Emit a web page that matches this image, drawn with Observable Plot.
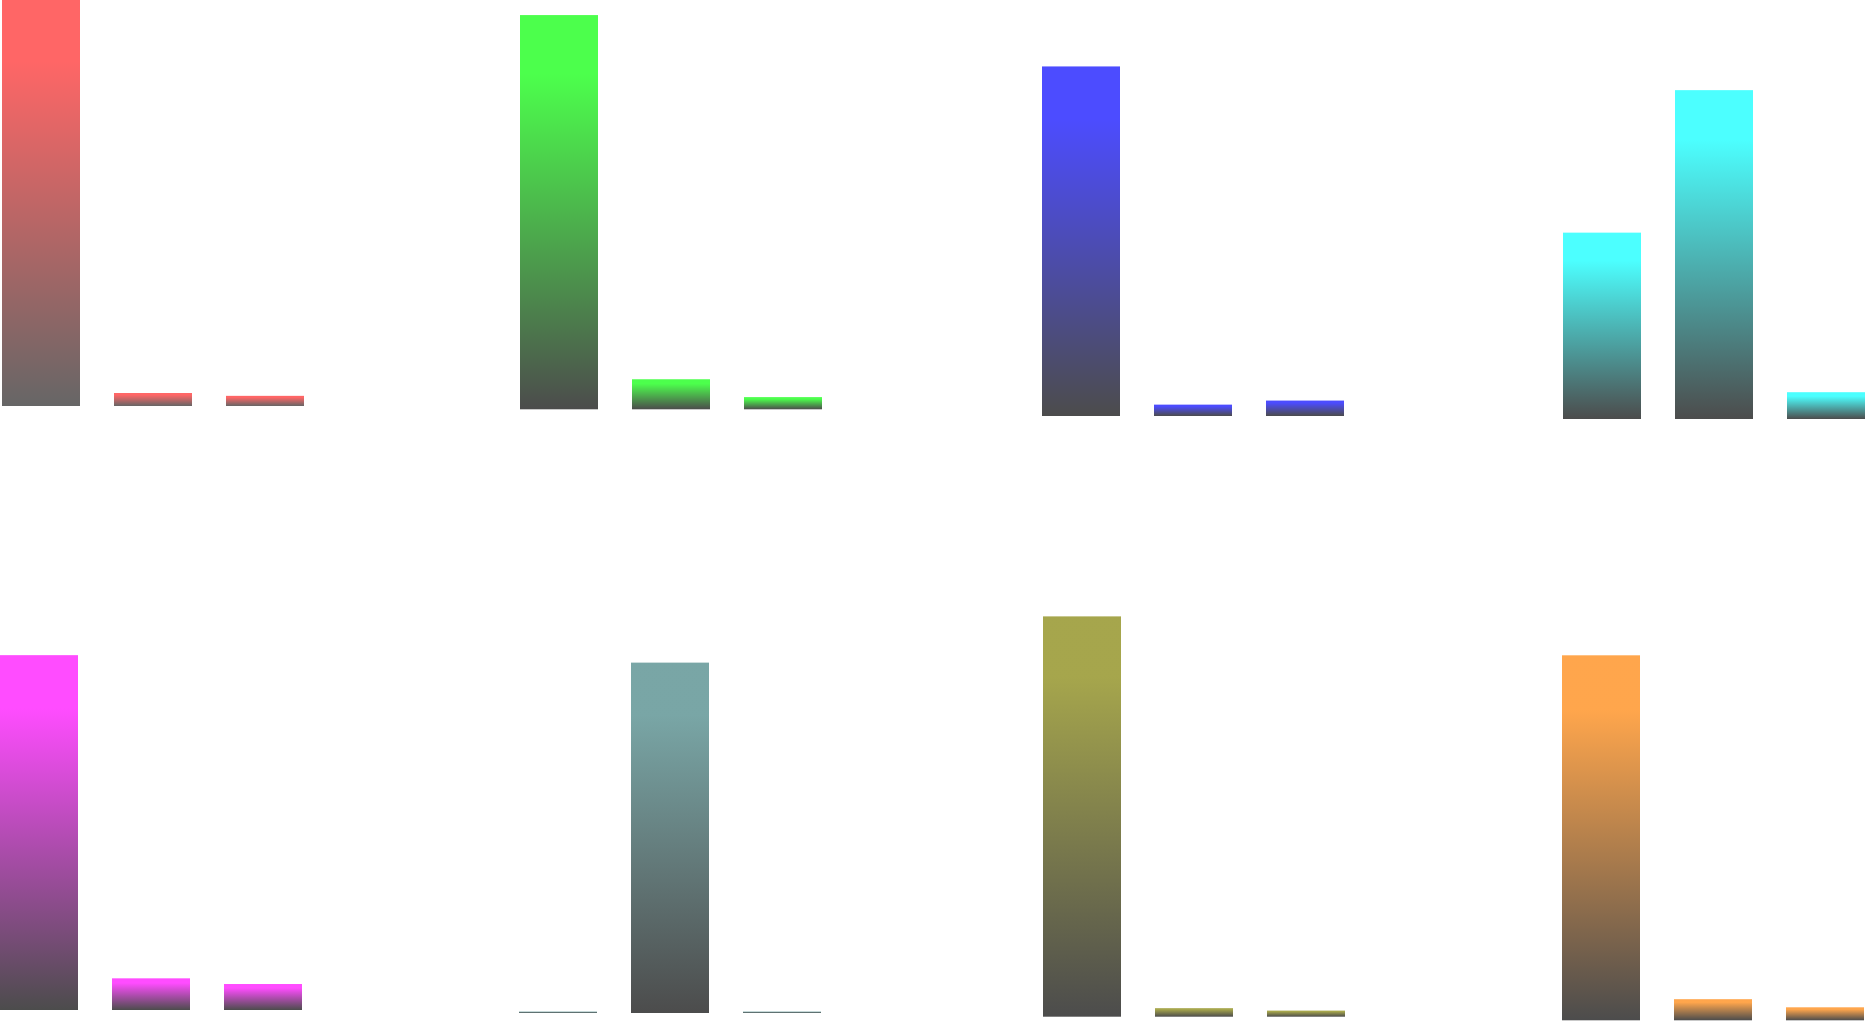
<!DOCTYPE html>
<html>
<head>
<meta charset="utf-8">
<script src="https://cdn.jsdelivr.net/npm/d3@7"></script>
<script src="https://cdn.jsdelivr.net/npm/@observablehq/plot@0.6"></script>
<style>
  html, body { margin: 0; padding: 0; background: white; }
  #chart { position: relative; width: 1866px; height: 1021px; overflow: hidden; }
  #chart svg { position: absolute; left: 0; top: 0; }
</style>
</head>
<body>
<div id="chart"></div>
<script>
// ---- data ----
const categories = ["A", "B", "C"];
const redValues     = [100.0, 3.2, 2.5];
const greenValues   = [97.1, 7.4, 3.0];
const blueValues    = [86.1, 2.8, 3.8];
const cyanValues    = [45.9, 81.0, 6.6];
const magentaValues = [87.4, 7.8, 6.4];
const tealValues    = [0.35, 86.3, 0.35];
const oliveValues   = [98.6, 2.1, 1.5];
const orangeValues  = [89.9, 5.2, 3.2];

const seriesValues = [redValues, greenValues, blueValues, cyanValues,
                      magentaValues, tealValues, oliveValues, orangeValues];

// ---- styles ----
const seriesColors = ["rgb(255,0,0)", "rgb(0,255,0)", "rgb(0,0,255)", "rgb(0,255,255)",
                      "rgb(255,0,255)", "rgb(64,128,128)", "rgb(128,128,0)", "rgb(255,128,0)"];
const seriesOpacity = [0.6, 0.7, 0.7, 0.7, 0.7, 0.7, 0.7, 0.7];
const gradientStops = [[0, "color"], [0.15, "color"], [1, "black"]];

// ---- layout (panel left edge, baseline) ----
const panelLeft = [1.2, 519.5, 1041.2, 1562, -0.3, 518, 1042, 1561.1];
const panelBase = [406, 409.3, 416, 419, 1010, 1013, 1016.7, 1020.3];
const bandSpan = 303.75;
const pxPerUnit = 4.06;

const W = 1866, H = 1021;
const container = document.getElementById("chart");

seriesValues.forEach((vals, i) => {
  const data = categories.map((c, j) => ({category: c, value: vals[j]}));
  const gid = "grad" + i;
  const svg = Plot.plot({
    width: W,
    height: H,
    margin: 0,
    style: {background: "transparent", overflow: "visible"},
    x: {type: "band", domain: categories, range: [panelLeft[i], panelLeft[i] + bandSpan],
        paddingInner: 0.3, paddingOuter: 0, axis: null},
    y: {type: "linear", domain: [0, 100], range: [panelBase[i], panelBase[i] - 100 * pxPerUnit], axis: null},
    marks: [
      Plot.barY(data, {x: "category", y: "value", fill: `url(#${gid})`, fillOpacity: seriesOpacity[i]})
    ]
  });
  const ns = "http://www.w3.org/2000/svg";
  const defs = document.createElementNS(ns, "defs");
  const lg = document.createElementNS(ns, "linearGradient");
  lg.setAttribute("id", gid);
  lg.setAttribute("x1", "0"); lg.setAttribute("y1", "0");
  lg.setAttribute("x2", "0"); lg.setAttribute("y2", "1");
  gradientStops.forEach(([o, c]) => {
    const s = document.createElementNS(ns, "stop");
    s.setAttribute("offset", o);
    s.setAttribute("stop-color", c === "color" ? seriesColors[i] : c);
    lg.appendChild(s);
  });
  defs.appendChild(lg);
  svg.insertBefore(defs, svg.firstChild);
  container.appendChild(svg);
});
</script>
</body>
</html>
